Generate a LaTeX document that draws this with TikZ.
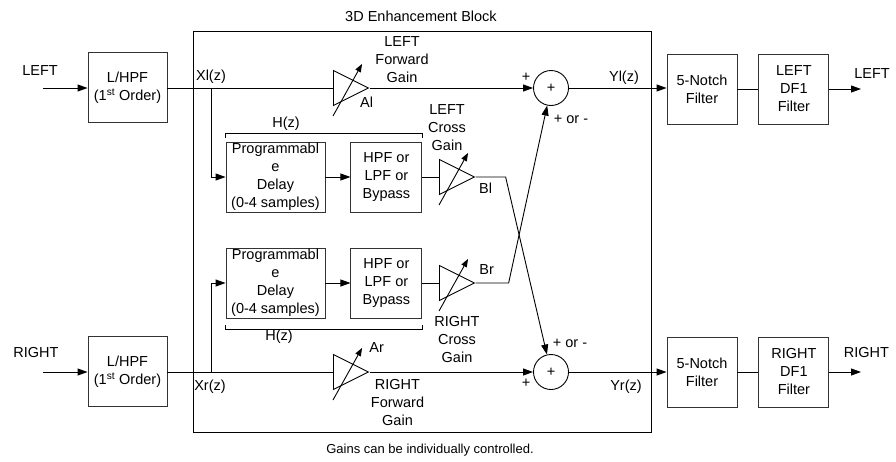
\documentclass[tikz,border=0pt]{standalone}
\usepackage{fontspec}
\setmainfont{Liberation Sans}
\usetikzlibrary{positioning, arrows.meta, calc, shapes.geometric}

\begin{document}
\begin{tikzpicture}[
        x=1pt, y=-1pt, line width=0.9pt,
        font=\fontsize{14.5}{18}\selectfont,
        % --- styles ---
        % 1. blocs de filtrage
        blk/.style={
                draw=black!80,
                minimum height=70pt,
                inner sep=0pt,
                align=center
            },
        % 2. amplis de gain (triangles)
        amp/.style={
                draw,
                isosceles triangle,
                isosceles triangle stretches,
                shape border rotate=0,
                minimum width=35pt,
                minimum height=35pt,
                inner sep=0pt,
                anchor=west
            },
        % 3. sommateurs
        sumnode/.style={
                draw,
                circle,
                minimum size=35pt,
                inner sep=0pt
            },
        % 4. fleches
        sig/.style={-{Triangle[length=10pt,width=7pt]}},
        gain/.style={-{Triangle[length=8pt,width=6pt]}},
        lbl/.style={align=center, inner sep=0pt}
    ]
    \useasboundingbox (0,0) rectangle (896,461);

    % 1. Entrees
    \node[blk, minimum width=79pt] (hpfL) at (127.5,87.5) {L/HPF\\(1\textsuperscript{st} Order)};
    \node[blk, minimum width=79pt] (hpfR) at (127.5,371.5) {L/HPF\\(1\textsuperscript{st} Order)};
    \node[lbl] (inL) at (40,71) {LEFT};
    \node[lbl] (inR) at (36,353) {RIGHT};
    \coordinate (srcL) at (43,88);
    \coordinate (srcR) at (43,372);

    % 2. Bloc 3D
    \node[draw, minimum width=458pt, minimum height=401pt, inner sep=0pt] (enh) at (422,231.5) {};
    \node[lbl] (title) at (421,16) {3D Enhancement Block};
    \node[lbl, font=\fontsize{13}{15}\selectfont] (note) at (430,450) {Gains can be individually controlled.};

    % H(z) gauche / droite
    \node[blk, minimum width=99pt] (dlyL) at (275.5,177) {Programmabl\\e\\Delay\\(0-4 samples)};
    \node[blk, minimum width=71pt, right=25pt of dlyL] (hpfxL) {HPF or\\LPF or\\Bypass};
    \node[blk, minimum width=99pt] (dlyR) at (275.5,283) {Programmabl\\e\\Delay\\(0-4 samples)};
    \node[blk, minimum width=71pt, right=25pt of dlyR] (hpfxR) {HPF or\\LPF or\\Bypass};
    \node[lbl] (hzL) at (286,124) {H(z)};
    \node[lbl] (hzR) at (279,337) {H(z)};

    % gains
    \node[amp] (Al) at (333,88) {};
    \node[amp] (Bl) at (439,177) {};
    \node[amp] (Br) at (439,283) {};
    \node[amp] (Ar) at (333,372) {};
    \node[lbl] at ($(Al.east)+(-3,14)$) {Al};
    \node[lbl] at ($(Bl.east)+(10,11)$) {Bl};
    \node[lbl] at ($(Br.east)+(11,-13)$) {Br};
    \node[lbl] at ($(Ar.east)+(7,-24)$) {Ar};
    \node[lbl] (gLF) at (402,60) {LEFT\\Forward\\Gain};
    \node[lbl] (gLC) at (447,128) {LEFT\\Cross\\Gain};
    \node[lbl] (gRC) at (457,340) {RIGHT\\Cross\\Gain};
    \node[lbl] (gRF) at (397.5,403) {RIGHT\\Forward\\Gain};

    % sommateurs
    \node[sumnode] (sumL) at (551,88) {+};
    \node[sumnode] (sumR) at (551,372) {+};
    \node[lbl] at (526,77) {+};
    \node[lbl] at (571,119) {+ or -};
    \node[lbl] at (570,343) {+ or -};
    \node[lbl] at (526,383) {+};
    \node[lbl] (xl) at (211,77) {Xl(z)};
    \node[lbl] (xr) at (210,387) {Xr(z)};
    \node[lbl] (yl) at (624,78) {Yl(z)};
    \node[lbl] (yr) at (626,387) {Yr(z)};

    % 3. Sorties
    \node[blk, minimum width=70pt] (notchL) at (702,89) {5-Notch\\Filter};
    \node[blk, minimum width=70pt, right=21pt of notchL] (dfL) {LEFT\\DF1\\Filter};
    \node[blk, minimum width=70pt] (notchR) at (702,372) {5-Notch\\Filter};
    \node[blk, minimum width=70pt, right=21pt of notchR] (dfR) {RIGHT\\DF1\\Filter};
    \node[lbl] (outLt) at (872,74) {LEFT};
    \node[lbl] (outRt) at (866.5,353) {RIGHT};
    \coordinate (outL) at (861,89);
    \coordinate (outR) at (861,372);

    % 4. Liaisons
    \coordinate (brL) at (211,88);
    \coordinate (brR) at (211,372);
    \draw[sig] (srcL) -- (srcL -| hpfL.west);
    \draw[sig] (srcR) -- (srcR -| hpfR.west);
    \draw (hpfL.east |- brL) -- (Al.west);
    \draw (hpfR.east |- brR) -- (Ar.west);
    \draw[sig] (brL) |- (dlyL.west);
    \draw[sig] (brR) |- (dlyR.west);
    \draw[sig] (dlyL) -- (hpfxL);
    \draw[sig] (dlyR) -- (hpfxR);
    \draw (hpfxL) -- (Bl.west);
    \draw (hpfxR) -- (Br.west);
    \draw[sig] (Al.east) -- (sumL.west);
    \draw[sig] (Ar.east) -- (sumR.west);
    \draw[sig] (Bl.east) -- ++(30,0) -- (sumR);
    \draw[sig] (Br.east) -- ++(33,0) -- (sumL);
    \draw[sig] (sumL.east) -- (sumL.east -| notchL.west);
    \draw[sig] (sumR.east) -- (notchR.west);
    \draw (notchL) -- (dfL);
    \draw (notchR) -- (dfR);
    \draw[sig] (dfL.east) -- (outL);
    \draw[sig] (dfR.east) -- (outR);

    % fleches de reglage des gains
    \foreach \g in {Al,Bl,Br,Ar}
    \draw[gain] ($(\g.west)+(0,28)$) -- ++(29,-52);

    % accolades H(z)
    \draw ($(dlyL.north west)+(0,-4)$) -- ++(0,-4) -| ($(hpfxL.north east)+(0,-4)$);
    \draw ($(dlyR.south west)+(0,7)$) -- ++(0,4) -| ($(hpfxR.south east)+(0,7)$);

\end{tikzpicture}
\end{document}
